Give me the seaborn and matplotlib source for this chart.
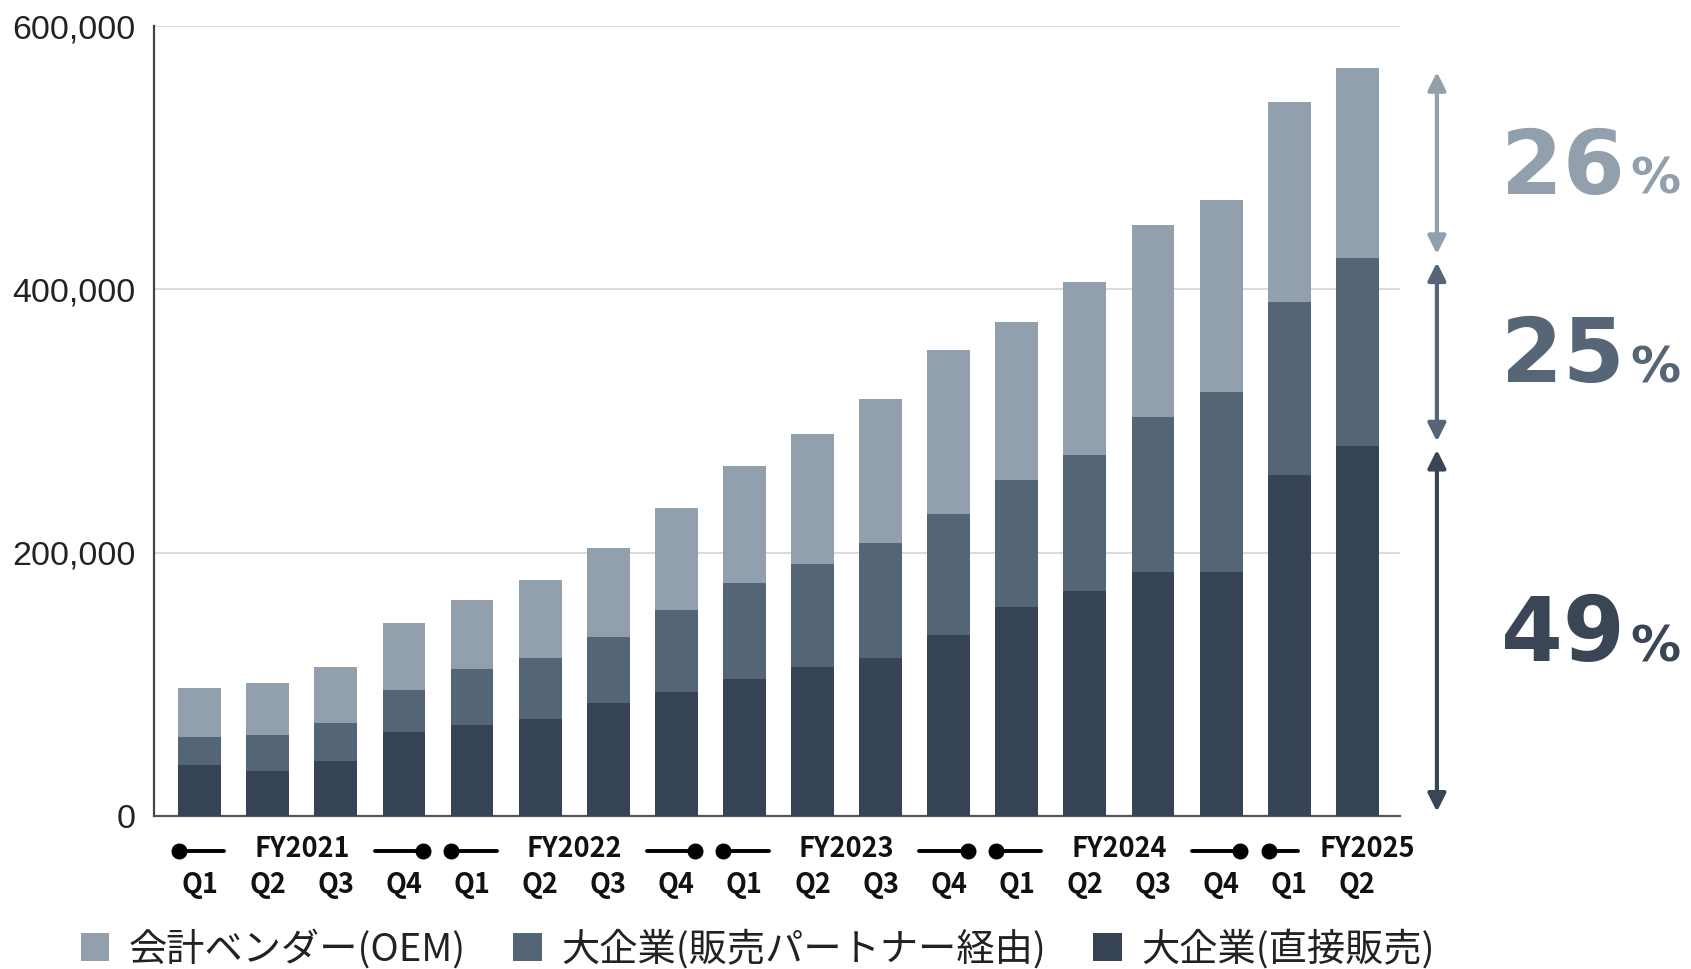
import numpy as np
import pandas as pd
import matplotlib
matplotlib.use("Agg")
import matplotlib.pyplot as plt
import matplotlib.patches as mpatches
import matplotlib.transforms as mtransforms
import seaborn as sns

# ---------------- data ----------------
fiscal_years = ["FY2021"] * 4 + ["FY2022"] * 4 + ["FY2023"] * 4 + ["FY2024"] * 4 + ["FY2025"] * 2
quarters = ["Q1", "Q2", "Q3", "Q4"] * 4 + ["Q1", "Q2"]
direct = [38600, 33800, 41900, 64000, 68800, 73300, 86100, 94400, 103800,
          113000, 119700, 137400, 158400, 171000, 185500, 185500, 258800, 281300]
partner = [21000, 27400, 28900, 31800, 43100, 46400, 49500, 61900, 73300,
           78500, 87300, 92200, 96900, 103000, 117500, 136600, 131700, 142400]
oem = [37800, 39400, 42700, 51100, 52300, 59800, 68100, 77300, 88500,
       98500, 110000, 124000, 120300, 131700, 145900, 145500, 152200, 144600]
series_names = ["会計ベンダー(OEM)", "大企業(販売パートナー経由)", "大企業(直接販売)"]
share_labels = ["26", "25", "49"]
yticks = [0, 200000, 400000, 600000]

c_light, c_mid, c_dark = "#929fac", "#546576", "#374455"

# ---------------- setup ----------------
sns.set_theme(style="white")
plt.rcParams["font.family"] = ["Noto Sans CJK JP", "DejaVu Sans"]

fig = plt.figure(figsize=(16.91, 9.69), dpi=100)
ax = fig.add_axes([0.0911, 0.158, 0.7369, 0.815])

df = pd.DataFrame({
    "period": [f"{f} {q}" for f, q in zip(fiscal_years, quarters)],
    "direct": direct, "partner": partner, "oem": oem,
})
df["cum_partner"] = df["direct"] + df["partner"]
df["cum_total"] = df["cum_partner"] + df["oem"]
order = list(df["period"])

bar_w = 0.63
for col, color in [("cum_total", c_light), ("cum_partner", c_mid), ("direct", c_dark)]:
    sns.barplot(data=df, x="period", y=col, order=order, color=color, saturation=1,
                width=bar_w, errorbar=None, linewidth=0, ax=ax, zorder=3)

n = len(order)
ax.set_xlim(-0.67, n - 1 + 0.63)
ax.set_ylim(0, 600000)
ax.set_yticks(yticks)
ax.set_yticklabels([f"{v:,}" for v in yticks], fontfamily="Liberation Sans",
                   fontsize=24.5, color="#222222")
ax.set_xticks(range(n))
ax.set_xticklabels(quarters, fontsize=19.5, fontweight="bold", color="#111111")
ax.tick_params(axis="y", length=0, pad=13)
ax.tick_params(axis="x", length=0, pad=40)
ax.set_xlabel("")
ax.set_ylabel("")
ax.yaxis.grid(True, color="#d4d4d4", lw=1.2)
ax.xaxis.grid(False)
ax.set_axisbelow(True)
for s in ["top", "right"]:
    ax.spines[s].set_visible(False)
ax.spines["left"].set_color("#444444")
ax.spines["left"].set_linewidth(1.6)
ax.spines["bottom"].set_color("#555555")
ax.spines["bottom"].set_linewidth(1.6)

# ---------------- fiscal-year brackets ----------------
trans = mtransforms.blended_transform_factory(ax.transData, ax.transAxes)
y_line = -0.0443
y_txt = -0.042
lw_br, ms_br = 2.8, 10.5
fy_unique = list(dict.fromkeys(fiscal_years))
for fy in fy_unique:
    idx = [i for i, f in enumerate(fiscal_years) if f == fy]
    i0, i1 = idx[0], idx[-1]
    if len(idx) == 4:
        ax.plot([i0 - 0.31, i0 + 0.36], [y_line, y_line], color="black", lw=lw_br,
                transform=trans, clip_on=False)
        ax.plot([i0 - 0.31], [y_line], "o", color="black", ms=ms_br, transform=trans, clip_on=False)
        ax.plot([i1 - 0.43, i1 + 0.28], [y_line, y_line], color="black", lw=lw_br,
                transform=trans, clip_on=False)
        ax.plot([i1 + 0.28], [y_line], "o", color="black", ms=ms_br, transform=trans, clip_on=False)
        ax.text((i0 + i1) / 2, y_txt, fy, ha="center", va="center", fontsize=19.5,
                fontweight="bold", color="#111111", transform=trans)
    else:
        ax.plot([i0 - 0.30, i0 + 0.13], [y_line, y_line], color="black", lw=lw_br,
                transform=trans, clip_on=False)
        ax.plot([i0 - 0.30], [y_line], "o", color="black", ms=ms_br, transform=trans, clip_on=False)
        ax.text(i0 + 0.45, y_txt, fy, ha="left", va="center", fontsize=19.5,
                fontweight="bold", color="#111111", transform=trans)

# ---------------- share arrows & labels ----------------
last_d = direct[-1]
last_p = direct[-1] + partner[-1]
last_t = last_p + oem[-1]
segments = [(last_p, last_t, c_light), (last_d, last_p, "#566676"), (0, last_d, "#3a4656")]
atrans = mtransforms.blended_transform_factory(ax.transAxes, ax.transData)
for (lo, hi, col), lab in zip(segments, share_labels):
    ax.annotate("", xy=(1.0295, hi), xytext=(1.0295, lo), xycoords=atrans, textcoords=atrans,
                arrowprops=dict(arrowstyle="<|-|>,head_length=0.9,head_width=0.45",
                                color=col, lw=3, shrinkA=3, shrinkB=3),
                annotation_clip=False)
    mid = (lo + hi) / 2
    ax.annotate(lab, xy=(1.081, mid), xycoords=atrans, xytext=(0, -22),
                textcoords="offset points", ha="left", va="baseline",
                fontsize=64, fontweight="bold", color=col, family="DejaVu Sans",
                annotation_clip=False)
    ax.annotate("%", xy=(1.1846, mid), xycoords=atrans, xytext=(0, -22),
                textcoords="offset points", ha="left", va="baseline",
                fontsize=36, fontweight="bold", color=col, family="DejaVu Sans",
                annotation_clip=False)

# ---------------- legend ----------------
handles = [mpatches.Patch(facecolor=c, edgecolor="none") for c in (c_light, c_mid, c_dark)]
fig.legend(handles, series_names, loc="center", bbox_to_anchor=(0.448, 0.02), ncol=3,
           frameon=False, fontsize=27.5, handlelength=0.75, handleheight=0.75,
           handletextpad=0.5, columnspacing=1.25, labelcolor="#222222")

fig.savefig("out.png", dpi=100)
